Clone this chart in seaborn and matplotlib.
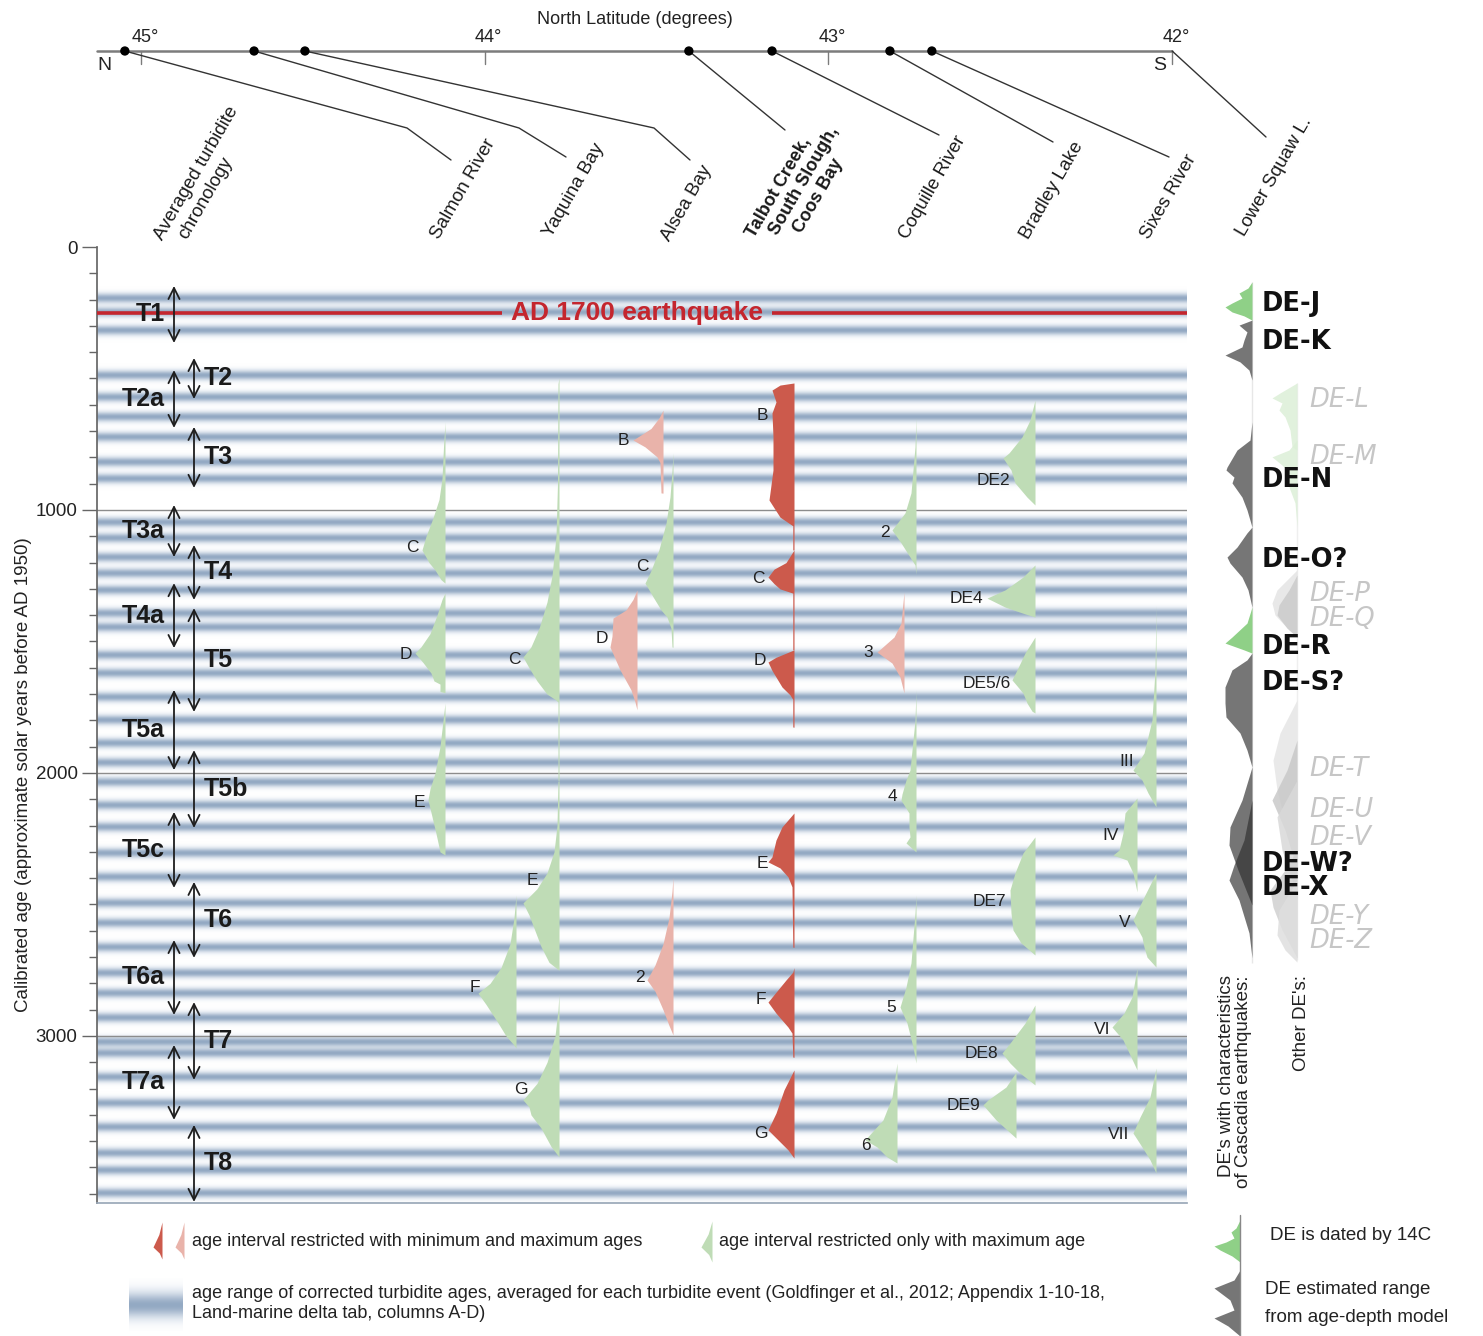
import numpy as np
import matplotlib
matplotlib.use("Agg")
import matplotlib.pyplot as plt
import seaborn as sns
from matplotlib.colors import LinearSegmentedColormap

sns.set_theme(style="white")
plt.rcParams["font.family"] = ["Liberation Sans", "DejaVu Sans"]

# ---------------------------------------------------------------
# Averaged turbidite chronology (cal yr BP)
# ---------------------------------------------------------------
turb_left_names = ["T1", "T2a", "T3a", "T4a", "T5a", "T5c", "T6a", "T7a"]
turb_left_young = [148, 468, 981, 1278, 1684, 2148, 2635, 3034]
turb_left_old = [365, 688, 1179, 1525, 1989, 2437, 2920, 3319]
turb_right_names = ["T2", "T3", "T4", "T5", "T5b", "T6", "T7", "T8"]
turb_right_young = [422, 684, 1133, 1373, 1913, 2414, 2871, 3338]
turb_right_old = [578, 916, 1342, 1768, 2209, 2703, 3167, 3631]

# corrected turbidite ages (centres of the shaded bands)
turb_band_ages = [194, 247, 316, 487, 570, 645, 722, 817, 880,
                  1046, 1106, 1179, 1240, 1304, 1392, 1445, 1551, 1620,
                  1711, 1798, 1886, 1960, 2034, 2122, 2205, 2304, 2395,
                  2494, 2570, 2662, 2760, 2837, 2930, 3022, 3065, 3156,
                  3255, 3346, 3445, 3510, 3597]

ad1700_age = 1950 - 1700

# ---------------------------------------------------------------
# Sites (north to south)
# ---------------------------------------------------------------
site_lat = [45.047, 44.671, 44.523, 43.406, 43.164, 42.821, 42.699]
lower_squaw_lat = 42.0
lat_ticks = [45, 44, 43, 42]

# age distributions of dated events: knots (cal yr BP) and relative density
salmon_events = ["C", "D", "E"]
salmon_kind = ["max", "max", "max"]
salmon_ages = [[665, 760, 880, 960, 1030, 1100, 1152, 1200, 1228, 1265, 1278],
               [1316, 1340, 1400, 1470, 1520, 1544, 1580, 1620, 1650, 1662, 1690, 1695],
               [1734, 1800, 1900, 2000, 2060, 2103, 2150, 2230, 2300, 2312]]
salmon_dens = [[0, 1.5, 3, 6, 12, 19, 23, 16, 10, 4, 0],
               [0, 3, 8, 15, 24, 30, 22, 14, 11, 5, 5, 0],
               [0, 2, 5, 10, 15, 17, 14, 9, 5, 0]]
salmon_label_age = [1144, 1551, 2114]

yaquina_events = ["C", "E", "F", "G"]
yaquina_kind = ["max", "max", "max", "max"]
yaquina_ages = [[498, 520, 900, 1100, 1250, 1350, 1450, 1520, 1559, 1600, 1650, 1700, 1720, 1730, 2027, 2030],
                [2030, 2031, 2200, 2300, 2380, 2440, 2494, 2540, 2600, 2660, 2720, 2750],
                [2464, 2550, 2650, 2740, 2800, 2837, 2880, 2950, 3000, 3030, 3046],
                [2837, 2900, 3000, 3100, 3180, 3243, 3270, 3300, 3350, 3420, 3460]]
yaquina_dens = [[0, 1, 1.5, 3, 7, 12, 20, 28, 36, 30, 22, 12, 4, 1, 1, 0],
                [0, 1, 2, 5, 12, 22, 36, 30, 24, 18, 10, 0],
                [0, 2, 6, 15, 26, 38, 30, 18, 10, 3, 0],
                [0, 1, 4, 12, 22, 36, 30, 28, 18, 8, 0]]
yaquina_label_age = [1570, 2407, 2817, 3205]

alsea_events = ["B", "C", "D", "2"]
alsea_kind = ["minmax_alt", "max", "minmax_alt", "minmax_alt"]
alsea_ages = [[620, 650, 690, 734, 760, 798, 820, 935, 936],
              [783, 850, 950, 1050, 1150, 1230, 1278, 1330, 1380, 1407, 1450, 1521, 1522],
              [1304, 1340, 1380, 1411, 1480, 1521, 1608, 1684, 1730, 1760],
              [2395, 2450, 2550, 2650, 2730, 2787, 2830, 2900, 2960, 2996]]
alsea_dens = [[0, 4, 12, 30, 18, 6, 3, 2, 0],
              [0, 1, 3, 7, 14, 22, 28, 20, 12, 6, 2, 1, 0],
              [0, 4, 11, 24, 25, 27, 17, 6, 2, 0],
              [0, 1, 4, 10, 18, 26, 18, 10, 4, 0]]
alsea_label_age = [734, 1213, 1487, 2776]

talbot_events = ["B", "C", "D", "E", "F", "G"]
talbot_kind = ["minmax"] * 6
talbot_ages = [[517, 525, 544, 589, 631, 722, 848, 962, 1027, 1060, 1152],
               [1152, 1200, 1225, 1255, 1280, 1300, 1316, 1532],
               [1532, 1560, 1578, 1610, 1673, 1703, 1720, 1825, 1826],
               [2152, 2205, 2255, 2319, 2338, 2361, 2395, 2433, 2662, 2663],
               [2740, 2757, 2787, 2852, 2871, 2913, 2966, 2989, 3080, 3081],
               [3129, 3205, 3293, 3357, 3395, 3433, 3464]]
talbot_dens = [[0, 14, 22, 18, 22, 21, 21, 25, 14, 1.2, 1.2],
               [0, 8, 20, 26, 20, 14, 1.2, 1.2],
               [0, 18, 26, 22, 12, 4, 1.2, 1.2, 0],
               [0, 12, 18, 22, 26, 14, 6, 2, 1.2, 0],
               [0, 1.2, 8, 22, 26, 18, 6, 2, 1.2, 0],
               [0, 10, 18, 26, 16, 6, 0]]
talbot_label_age = [639, 1259, 1574, 2346, 2863, 3369]

coquille_events = ["2", "3", "4", "5", "6"]
coquille_kind = ["max", "minmax_alt", "max", "max", "max"]
coquille_ages = [[646, 760, 935, 1011, 1076, 1125, 1179, 1209, 1245],
                 [1312, 1430, 1483, 1540, 1582, 1635, 1696],
                 [1684, 1800, 1989, 2027, 2080, 2103, 2152, 2205, 2243, 2266, 2300],
                 [2464, 2532, 2722, 2814, 2890, 2951, 3042, 3103],
                 [3103, 3232, 3319, 3395, 3422, 3460, 3483]]
coquille_dens = [[0, 1, 5, 11, 24, 15, 6, 1, 0],
                 [0, 3, 10, 27, 12, 4, 0],
                 [0, 1, 6, 10, 14, 15, 7, 7, 6, 10, 0],
                 [0, 1, 5, 10, 16, 9, 3, 0],
                 [0, 5, 14, 32, 20, 10, 0]]
coquille_label_age = [1087, 1540, 2091, 2890, 3418]

bradley_events = ["DE2", "DE4", "DE5/6", "DE7", "DE8", "DE9"]
bradley_kind = ["max"] * 6
bradley_ages = [[582, 658, 722, 783, 802, 848, 897, 951, 981],
                [1209, 1255, 1304, 1335, 1369, 1395, 1407],
                [1483, 1544, 1600, 1646, 1696, 1734, 1765, 1772],
                [2243, 2304, 2380, 2445, 2532, 2597, 2646, 2692],
                [2882, 2951, 3027, 3065, 3103, 3141, 3186],
                [3137, 3194, 3243, 3262, 3319, 3388]]
bradley_dens = [[0, 5, 13, 26, 32, 24, 20, 8, 0],
                [0, 12, 30, 48, 30, 10, 0],
                [0, 10, 17, 23, 12, 8, 3, 0],
                [0, 12, 20, 25, 24, 22, 14, 0],
                [0, 10, 25, 33, 25, 15, 0],
                [0, 10, 28, 33, 20, 0]]
bradley_label_age = [886, 1335, 1658, 2490, 3068, 3266]

sixes_events = ["III", "IV", "V", "VI", "VII"]
sixes_kind = ["max"] * 5
sixes_ages = [[1361, 1608, 1798, 1924, 1989, 2027, 2076, 2129],
              [2095, 2152, 2228, 2293, 2312, 2331, 2380, 2452],
              [2380, 2471, 2559, 2624, 2662, 2700, 2738],
              [2741, 2852, 2913, 2966, 3015, 3080, 3129],
              [3122, 3232, 3308, 3369, 3422, 3471, 3521]]
sixes_dens = [[0, 1, 4, 12, 23, 14, 8, 0],
              [0, 12, 14, 18, 24, 10, 4, 0],
              [0, 12, 23, 14, 12, 9, 0],
              [0, 5, 13, 25, 14, 6, 0],
              [0, 6, 16, 23, 14, 6, 0]]
sixes_label_age = [1958, 2236, 2567, 2977, 3373]

# ---------------------------------------------------------------
# Lower Squaw Lake disturbance events (DE)
# ---------------------------------------------------------------
cascadia_de_names = ["DE-J", "DE-K", "DE-N", "DE-O?", "DE-R", "DE-S?", "DE-W?", "DE-X"]
cascadia_de_dated = [True, False, False, False, True, False, False, False]
cascadia_de_ages = [[133, 156, 175, 194, 213, 228, 247, 262, 278],
                    [278, 297, 323, 354, 380, 411, 437, 468, 506],
                    [665, 734, 772, 837, 848, 875, 897, 951, 1000, 1065],
                    [1065, 1087, 1141, 1179, 1202, 1255, 1304, 1369],
                    [1369, 1430, 1483, 1506, 1532, 1544],
                    [1544, 1570, 1608, 1673, 1734, 1787, 1848, 1913, 1977],
                    [1977, 2103, 2205, 2274, 2369, 2502],
                    [2103, 2255, 2350, 2407, 2483, 2608, 2703]]
cascadia_de_dens = [[0, 4, 13, 10, 20, 27, 20, 8, 0],
                    [0, 13, 5, 8, 10, 27, 12, 3, 0],
                    [0, 2, 15, 25, 26, 18, 20, 10, 5, 0],
                    [0, 5, 15, 25, 22, 10, 4, 0],
                    [0, 5, 20, 27, 8, 0],
                    [0, 5, 20, 27, 27, 26, 12, 5, 0],
                    [0, 10, 22, 23, 14, 0],
                    [0, 8, 18, 23, 13, 3, 0]]
cascadia_de_label_age = [217, 361, 886, 1190, 1521, 1658, 2346, 2437]

other_de_names = ["DE-L", "DE-M", "DE-P", "DE-Q", "DE-T", "DE-U", "DE-V", "DE-Y", "DE-Z"]
other_de_dated = [True, True, False, False, False, False, False, False, False]
other_de_ages = [[517, 555, 574, 593, 620, 646, 696, 760, 772],
                 [734, 772, 798, 829, 848, 913, 973, 1065],
                 [1228, 1266, 1304, 1354, 1399, 1456, 1483],
                 [1247, 1304, 1361, 1399, 1449, 1483],
                 [1722, 1848, 1951, 2065, 2217, 2369],
                 [1875, 1989, 2103, 2217, 2369],
                 [2027, 2167, 2293, 2407, 2483],
                 [2293, 2369, 2445, 2510, 2597, 2703],
                 [2407, 2521, 2616, 2673, 2719]]
other_de_dens = [[0, 17, 25, 15, 18, 12, 7, 5, 0],
                 [0, 8, 25, 15, 10, 8, 2, 0],
                 [0, 10, 20, 25, 22, 8, 0],
                 [0, 8, 18, 20, 10, 0],
                 [0, 17, 24, 20, 10, 0],
                 [0, 10, 25, 12, 0],
                 [0, 20, 15, 5, 0],
                 [0, 12, 27, 24, 15, 0],
                 [0, 18, 20, 12, 0]]
other_de_label_age = [582, 798, 1319, 1414, 1985, 2141, 2247, 2548, 2639]

# ---------------------------------------------------------------
# Layout and styling
# ---------------------------------------------------------------
W, H = 1483, 1336
AX_LEFT, AX_RIGHT, AX_TOP, AX_BOTTOM = 97, 1187, 247, 1203
AGE_MAX = 3635

kind_color = {"max": "#bfdcb6", "minmax": "#cc5a4c", "minmax_alt": "#e9b3aa"}
site_base_x = {
    "salmon": [348, 348, 348],
    "yaquina": [462, 462, 419, 462],
    "alsea": [566, 576, 540, 576],
    "talbot": [697] * 6,
    "coquille": [819, 807, 819, 819, 800],
    "bradley": [938, 938, 938, 938, 938, 919],
    "sixes": [1059, 1040, 1059, 1040, 1059],
}
site_tables = [
    ("salmon", salmon_events, salmon_kind, salmon_ages, salmon_dens, salmon_label_age),
    ("yaquina", yaquina_events, yaquina_kind, yaquina_ages, yaquina_dens, yaquina_label_age),
    ("alsea", alsea_events, alsea_kind, alsea_ages, alsea_dens, alsea_label_age),
    ("talbot", talbot_events, talbot_kind, talbot_ages, talbot_dens, talbot_label_age),
    ("coquille", coquille_events, coquille_kind, coquille_ages, coquille_dens, coquille_label_age),
    ("bradley", bradley_events, bradley_kind, bradley_ages, bradley_dens, bradley_label_age),
    ("sixes", sixes_events, sixes_kind, sixes_ages, sixes_dens, sixes_label_age),
]

band_cmap = LinearSegmentedColormap.from_list(
    "bands", [(0.0, "#ffffff"), (0.12, "#f2f5f9"), (0.5, "#cbd6e3"), (1.0, "#93a9c3")])

fig = plt.figure(figsize=(W / 100, H / 100), dpi=100)
fig.patch.set_facecolor("white")

# full-figure canvas in pixel units for legend and side texts
ax_bg = fig.add_axes([0, 0, 1, 1], zorder=0)
ax_bg.set_xlim(0, W)
ax_bg.set_ylim(H, 0)
ax_bg.axis("off")

# ---------------------------------------------------------------
# Main age panel
# ---------------------------------------------------------------
ax = fig.add_axes([AX_LEFT / W, 1 - AX_BOTTOM / H, (AX_RIGHT - AX_LEFT) / W,
                   (AX_BOTTOM - AX_TOP) / H], zorder=2)
ax.patch.set_alpha(0)
ax.set_xlim(0, AX_RIGHT - AX_LEFT)
ax.set_ylim(AGE_MAX, 0)

age_grid = np.linspace(0, AGE_MAX, 4000)
band_sigma = 13.0
intensity = np.zeros_like(age_grid)
for c in turb_band_ages:
    intensity += np.exp(-0.5 * ((age_grid - c) / band_sigma) ** 2)
intensity = np.clip(intensity, 0, 1)
ax.imshow(intensity[:, None], extent=(0, AX_RIGHT - AX_LEFT, AGE_MAX, 0),
          aspect="auto", cmap=band_cmap, vmin=0, vmax=1,
          interpolation="bilinear", zorder=0)

for g in (1000, 2000, 3000):
    ax.axhline(g, color="#8c8c8c", lw=1.0, zorder=1)

ax.set_xticks([])
ax.set_yticks([0, 1000, 2000, 3000])
ax.set_yticks(np.arange(0, AGE_MAX, 100), minor=True)
ax.tick_params(axis="y", which="major", left=True, length=11, width=1,
               color="#666666", labelsize=13.5, pad=3, labelcolor="#222222")
ax.tick_params(axis="y", which="minor", left=True, length=6, width=1,
               color="#666666")
for side in ("top", "right"):
    ax.spines[side].set_visible(False)
ax.spines["left"].set_color("#666666")
ax.spines["bottom"].set_color("#9aa8b8")
ax.set_ylabel("Calibrated age (approximate solar years before AD 1950)",
              fontsize=13.5, color="#222222")
ax.yaxis.set_label_coords(-0.060, 1 - (775 - AX_TOP) / (AX_BOTTOM - AX_TOP))

# AD 1700 earthquake
ax.plot([0, 405], [ad1700_age, ad1700_age], color="#c4262e", lw=2.6, zorder=5,
        solid_capstyle="butt")
ax.plot([675, AX_RIGHT - AX_LEFT], [ad1700_age, ad1700_age], color="#c4262e",
        lw=2.6, zorder=5, solid_capstyle="butt")
ax.text(540, ad1700_age, "AD 1700 earthquake", color="#c4262e", fontsize=19,
        fontweight="bold", ha="center", va="center", zorder=6)

# turbidite ranges
arrow_kw = dict(arrowstyle="<->", color="#1e1e1e", lw=1.3, mutation_scale=20,
                shrinkA=0, shrinkB=0)
for name, y0, y1 in zip(turb_left_names, turb_left_young, turb_left_old):
    ax.annotate("", xy=(77, y1), xytext=(77, y0), arrowprops=arrow_kw, zorder=6)
    ax.text(68, (y0 + y1) / 2, name, ha="right", va="center", fontsize=18,
            fontweight="bold", color="#1a1a1a", zorder=6)
for name, y0, y1 in zip(turb_right_names, turb_right_young, turb_right_old):
    ax.annotate("", xy=(97, y1), xytext=(97, y0), arrowprops=arrow_kw, zorder=6)
    ax.text(107, (y0 + y1) / 2, name, ha="left", va="center", fontsize=18,
            fontweight="bold", color="#1a1a1a", zorder=6)

# event age distributions
for key, events, kinds, ages_l, dens_l, lab_l in site_tables:
    for i, (ev, kd, ag, dn, la) in enumerate(zip(events, kinds, ages_l, dens_l, lab_l)):
        base = site_base_x[key][i]
        ag = np.asarray(ag, float)
        dn = np.asarray(dn, float)
        ax.fill_betweenx(ag, base - dn, base, color=kind_color[kd], lw=0, zorder=3)
        wl = np.interp(la, ag, dn)
        ax.text(base - wl - 4, la, ev, ha="right", va="center", fontsize=12.5,
                color="#222222", zorder=4)

# ---------------------------------------------------------------
# Lower Squaw Lake panel
# ---------------------------------------------------------------
ax_r = fig.add_axes([AX_RIGHT / W, 1 - AX_BOTTOM / H, (W - AX_RIGHT) / W,
                     (AX_BOTTOM - AX_TOP) / H], zorder=2)
ax_r.patch.set_alpha(0)
ax_r.set_xlim(0, W - AX_RIGHT)
ax_r.set_ylim(AGE_MAX, 0)
ax_r.axis("off")
casc_base, other_base = 65, 110

sns.lineplot(x=[casc_base, casc_base], y=[133, 2722], ax=ax_r, color="#8a8a8a",
             lw=1.2, zorder=1)
sns.lineplot(x=[other_base, other_base], y=[517, 2711], ax=ax_r, color="#b0b0b0",
             lw=1.2, zorder=1)

other_colors = ["#dcefd7", "#dcefd7", "#e4e4e4", "#cbcbcb", "#e6e6e6",
                "#c9c9c9", "#d9d9d9", "#d1d1d1", "#dfdfdf"]
for nm, ag, dn, la, colr in zip(other_de_names, other_de_ages, other_de_dens,
                                other_de_label_age, other_colors):
    ax_r.fill_betweenx(ag, other_base - np.asarray(dn, float), other_base,
                       color=colr, alpha=0.85, lw=0, zorder=2)
    ax_r.text(other_base + 12, la, nm, ha="left", va="center", fontsize=18.5,
              style="italic", color="#c6c6c6", family=["DejaVu Sans"], zorder=4)

for nm, dated, ag, dn, la in zip(cascadia_de_names, cascadia_de_dated,
                                 cascadia_de_ages, cascadia_de_dens,
                                 cascadia_de_label_age):
    if dated:
        colr, alp = "#8fd087", 1.0
    elif nm in ("DE-W?", "DE-X"):
        colr, alp = "#2e2e2e", 0.66
    else:
        colr, alp = "#767676", 1.0
    ax_r.fill_betweenx(ag, casc_base - np.asarray(dn, float), casc_base,
                       color=colr, alpha=alp, lw=0, zorder=3)
    ax_r.text(casc_base + 10, la, nm, ha="left", va="center", fontsize=18.5,
              fontweight="bold", color="#111111", family=["DejaVu Sans"], zorder=5)

ax_bg.text(1235, 975, "DE's with characteristics\nof Cascadia earthquakes:",
           rotation=90, ha="center", va="top", multialignment="right",
           fontsize=13.5, color="#222222", linespacing=1.05)
ax_bg.text(1302, 975, "Other DE's:", rotation=90, ha="center", va="top",
           fontsize=13.5, color="#222222")

# ---------------------------------------------------------------
# Latitude header
# ---------------------------------------------------------------
PX_PER_DEG = 343.7
LAT_TICK_PX = 141


def px2lat(px):
    return 45 - (px - LAT_TICK_PX) / PX_PER_DEG


ax_h = fig.add_axes([0, 1 - AX_TOP / H, 1, AX_TOP / H], zorder=1)
ax_h.patch.set_alpha(0)

LINE_Y = 51
sns.scatterplot(x=site_lat, y=[LINE_Y] * len(site_lat), ax=ax_h, color="black",
                s=45, edgecolor="none", zorder=4, legend=False)
ax_h.set_xlim(px2lat(0), px2lat(W))
ax_h.set_ylim(AX_TOP, 0)
ax_h.axis("off")

ax_h.plot([px2lat(AX_LEFT), lower_squaw_lat], [LINE_Y, LINE_Y], color="#7c7c7c", lw=1.8)
for lt in lat_ticks:
    ax_h.plot([lt, lt], [LINE_Y, LINE_Y + 13], color="#7c7c7c", lw=1.0)
    ax_h.text(lt - 4 / PX_PER_DEG, 37, f"{lt}°", ha="center", va="center",
              fontsize=13, color="#222222")
ax_h.text(px2lat(635), 19, "North Latitude (degrees)", ha="center", va="center",
          fontsize=13, color="#222222")
ax_h.text(px2lat(104), 66, "N", ha="center", va="center", fontsize=14, color="#222222")
ax_h.text(px2lat(1160), 66, "S", ha="center", va="center", fontsize=14, color="#222222")

leader_paths = [
    [(407, 128), (451, 160)],
    [(519, 128), (566, 157)],
    [(654, 128), (690, 160)],
    [(785, 130)],
    [(939, 135)],
    [(1053, 142)],
    [(1169, 157)],
]
for lat, path in zip(site_lat, leader_paths):
    xs = [lat] + [px2lat(p[0]) for p in path]
    ys = [LINE_Y] + [p[1] for p in path]
    ax_h.plot(xs, ys, color="#333333", lw=1.0, zorder=2)
ax_h.plot([lower_squaw_lat, px2lat(1266)], [LINE_Y, 137], color="#333333", lw=1.0)

# each printed line of a column heading, with the start of its baseline
heading_lines = [
    ("Averaged turbidite", 163, 241, "normal", 13.5),
    ("chronology", 187, 240, "normal", 13.5),
    ("Salmon River", 439, 240, "normal", 13.5),
    ("Yaquina Bay", 552, 238, "normal", 13.5),
    ("Alsea Bay", 670, 242, "normal", 13.5),
    ("Talbot Creek,", 754, 238, "bold", 13),
    ("South Slough,", 778, 236, "bold", 13),
    ("Coos Bay", 802, 234, "bold", 13),
    ("Coquille River", 908, 240, "normal", 13.5),
    ("Bradley Lake", 1029, 240, "normal", 13.5),
    ("Sixes River", 1149, 240, "normal", 13.5),
    ("Lower Squaw L.", 1245, 237, "normal", 13.5),
]
for txt, px, py, wt, fs in heading_lines:
    ax_h.text(px2lat(px), py, txt, rotation=60, rotation_mode="anchor",
              ha="left", va="baseline", fontsize=fs, fontweight=wt,
              color="#1a1a1a")

# ---------------------------------------------------------------
# Legend
# ---------------------------------------------------------------
def glyph(xb, y_top, y_peak, y_bot, w, color):
    ys = np.array([y_top, (y_top + y_peak) / 2, y_peak, (y_peak + y_bot) / 2, y_bot])
    ws = np.array([0, w * 0.35, w, w * 0.3, 0])
    ax_bg.fill_betweenx(ys, xb - ws, xb, color=color, lw=0)


glyph(162, 1222, 1247, 1259, 9, kind_color["minmax"])
glyph(184, 1222, 1247, 1259, 9, kind_color["minmax_alt"])
glyph(712, 1221, 1247, 1262, 11, kind_color["max"])
ax_bg.text(192, 1242, "age interval restricted with minimum and maximum ages",
           ha="left", va="center", fontsize=13, color="#222222")
ax_bg.text(719, 1241, "age interval restricted only with maximum age",
           ha="left", va="center", fontsize=13, color="#222222")

sw_y = np.linspace(1278, 1331, 120)
sw = np.exp(-0.5 * ((sw_y - 1305) / 9.0) ** 2)[:, None]
ax_bg.imshow(sw, extent=(129, 183, 1331, 1278), aspect="auto", cmap=band_cmap,
             vmin=0, vmax=1, interpolation="bilinear", zorder=1)
ax_bg.text(192, 1293, "age range of corrected turbidite ages, averaged for each "
           "turbidite event (Goldfinger et al., 2012; Appendix 1-10-18,",
           ha="left", va="center", fontsize=13, color="#222222")
ax_bg.text(192, 1313, "Land-marine delta tab, columns A-D)", ha="left",
           va="center", fontsize=13, color="#222222")
ax_bg.set_xlim(0, W)
ax_bg.set_ylim(H, 0)

ax_bg.plot([1240, 1240], [1215, 1336], color="#888888", lw=1.0)
gy = np.array([1220, 1228, 1232, 1238, 1242, 1246, 1250, 1256, 1262])
gw = np.array([0, 4, 9, 6, 14, 26, 20, 8, 0])
ax_bg.fill_betweenx(gy, 1240 - gw, 1240, color="#8fd087", lw=0)
ky = np.array([1270, 1280, 1288, 1300, 1310, 1318, 1326, 1336])
kw = np.array([0, 6, 26, 10, 6, 26, 12, 0])
ax_bg.fill_betweenx(ky, 1240 - kw, 1240, color="#767676", lw=0)
ax_bg.text(1270, 1236, "DE is dated by 14C", ha="left", va="center",
           fontsize=13.5, color="#222222")
ax_bg.text(1265, 1290, "DE estimated range", ha="left", va="center",
           fontsize=13.5, color="#222222")
ax_bg.text(1265, 1318, "from age-depth model", ha="left", va="center",
           fontsize=13.5, color="#222222")

fig.savefig("out.png", dpi=100, facecolor="white")
